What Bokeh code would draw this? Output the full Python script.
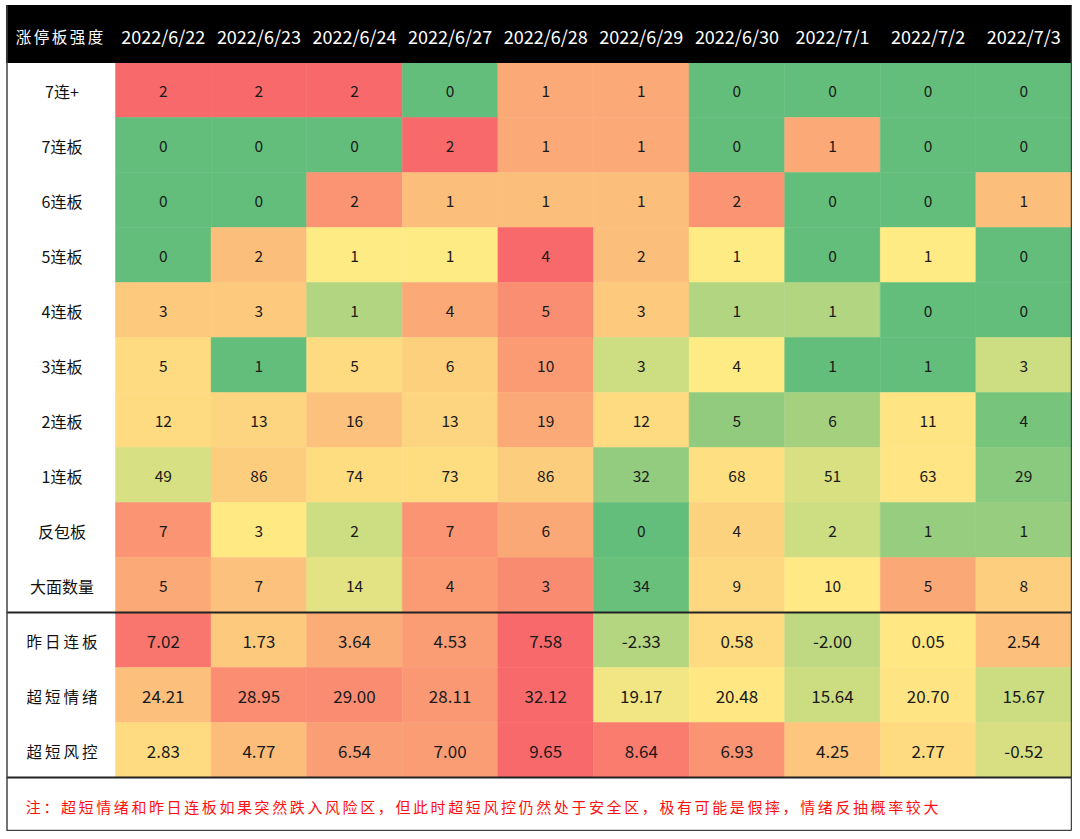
from bokeh.plotting import figure
from bokeh.models import ColumnDataSource, Range1d
from bokeh.core.properties import value
from bokeh.embed import file_html
from bokeh.resources import INLINE

# ---------------- data ----------------
dates = ["2022/6/22", "2022/6/23", "2022/6/24", "2022/6/27", "2022/6/28",
         "2022/6/29", "2022/6/30", "2022/7/1", "2022/7/2", "2022/7/3"]
corner_label = "涨停板强度"
row_labels = ["7连+", "7连板", "6连板", "5连板", "4连板", "3连板", "2连板",
              "1连板", "反包板", "大面数量", "昨日连板", "超短情绪", "超短风控"]

lb_7plus = [2, 2, 2, 0, 1, 1, 0, 0, 0, 0]
lb_7 = [0, 0, 0, 2, 1, 1, 0, 1, 0, 0]
lb_6 = [0, 0, 2, 1, 1, 1, 2, 0, 0, 1]
lb_5 = [0, 2, 1, 1, 4, 2, 1, 0, 1, 0]
lb_4 = [3, 3, 1, 4, 5, 3, 1, 1, 0, 0]
lb_3 = [5, 1, 5, 6, 10, 3, 4, 1, 1, 3]
lb_2 = [12, 13, 16, 13, 19, 12, 5, 6, 11, 4]
lb_1 = [49, 86, 74, 73, 86, 32, 68, 51, 63, 29]
fanbao = [7, 3, 2, 7, 6, 0, 4, 2, 1, 1]
damian = [5, 7, 14, 4, 3, 34, 9, 10, 5, 8]
zuori_lianban = [7.02, 1.73, 3.64, 4.53, 7.58, -2.33, 0.58, -2.00, 0.05, 2.54]
chaoduan_qingxu = [24.21, 28.95, 29.00, 28.11, 32.12, 19.17, 20.48, 15.64, 20.70, 15.67]
chaoduan_fengkong = [2.83, 4.77, 6.54, 7.00, 9.65, 8.64, 6.93, 4.25, 2.77, -0.52]

footnote = "注：超短情绪和昨日连板如果突然跌入风险区，但此时超短风控仍然处于安全区，极有可能是假摔，情绪反抽概率较大"

int_rows = [lb_7plus, lb_7, lb_6, lb_5, lb_4, lb_3, lb_2, lb_1, fanbao, damian]
float_rows = [zuori_lianban, chaoduan_qingxu, chaoduan_fengkong]

# ---------------- styles (cell fills) ----------------
R, G, Y = "#F8696B", "#63BE7B", "#FFEB84"
cell_colors = [
    [R, R, R, G, "#FBAA77", "#FBAA77", G, G, G, G],
    [G, G, G, R, "#FBAA77", "#FBAA77", G, "#FBAA77", G, G],
    [G, G, "#FA9473", "#FCBE7B", "#FCBE7B", "#FCBE7B", "#FA9473", G, G, "#FCBE7B"],
    [G, "#FCBE7B", Y, Y, R, "#FCBE7B", Y, G, Y, G],
    ["#FDC97D", "#FDC97D", "#B1D580", "#FBAA77", "#FA8E72", "#FDC97D", "#B1D580", "#B1D580", G, G],
    ["#FEDB80", G, "#FEDB80", "#FDD07E", "#FA9B74", "#CCDD82", Y, G, G, "#CCDD82"],
    ["#FEDA80", "#FDD47F", "#FCC17C", "#FDD47F", "#FBAA77", "#FEDA80", "#92CB7E", "#A5D17F", "#FFE483", "#77C47D"],
    ["#D7E082", "#FDCD7E", "#FEDC80", "#FEDD81", "#FDCD7E", "#93CC7E", "#FEDF81", "#D8E082", "#FFE583", "#8ACA7E"],
    ["#FA9473", "#FFE983", "#CCDD82", "#FA9473", "#FBA877", G, "#FDD27F", "#CCDD82", "#97CD7E", "#97CD7E"],
    ["#FBAA77", "#FCC17C", "#E4E383", "#FA9B74", "#F98B71", "#68C07B", "#FED880", "#FFE984", "#FBA877", "#FDCE7E"],
    ["#F8766D", "#FDC97D", "#FBAD78", "#FA9D75", R, "#B5D680", "#FEDB80", "#BED981", "#FFE883", "#FCC07C"],
    ["#FCC07C", "#FA8D72", "#FA8C72", "#FA9874", R, "#F1E683", "#FFE884", "#CBDC81", "#FFE483", "#CBDC81"],
    ["#FEDB80", "#FCBD7B", "#FA9E75", "#FA9C74", R, "#F97C6F", "#FA9473", "#FDC57D", "#FEDA80", "#D8DF82"],
]

# ---------------- layout (picture pixel coordinates) ----------------
W, H = 1072, 831
X0, X1 = 6, 1071          # table left / right
LABEL_R = 115             # right edge of label column
Y_TOP, HEAD_B = 5, 62     # header top / bottom
ROW_H = 55
ncol = len(dates)
COL_W = (X1 - LABEL_R) / ncol
FOOT_B = 830
CJK = "Noto Sans CJK SC"

p = figure(width=W, height=H, x_range=Range1d(0, W), y_range=Range1d(H, 0),
           output_backend="svg", toolbar_location=None, min_border=0)
p.axis.visible = False
p.grid.visible = False
p.outline_line_color = None
p.background_fill_color = "white"

# cells
cl, cr, ct, cb, cc = [], [], [], [], []
vx, vy, vt = [], [], []
all_rows = int_rows + float_rows
for r, vals in enumerate(all_rows):
    top = HEAD_B + r * ROW_H
    for c, v in enumerate(vals):
        left = LABEL_R + c * COL_W
        cl.append(left); cr.append(left + COL_W)
        ct.append(top); cb.append(top + ROW_H)
        cc.append(cell_colors[r][c])
        vx.append(left + COL_W / 2); vy.append(top + ROW_H / 2 + 1)
        vt.append(str(v) if r < len(int_rows) else f"{v:.2f}")
p.quad(left="l", right="r", top="t", bottom="b", fill_color="c", line_color="c", line_width=0.5,
       source=ColumnDataSource(dict(l=cl, r=cr, t=ct, b=cb, c=cc)))

ni = len(int_rows) * ncol
p.text(x=vx[:ni], y=vy[:ni], text=vt[:ni], text_align="center", text_baseline="middle",
       text_font=value(CJK), text_font_size="15.5px", text_color="#1a1a1a")
p.text(x=vx[ni:], y=vy[ni:], text=vt[ni:], text_align="center", text_baseline="middle",
       text_font=value(CJK), text_font_size="17px", text_color="#1a1a1a")

# header
p.quad(left=[X0], right=[X1], top=[Y_TOP], bottom=[HEAD_B], fill_color="black", line_color="black")
hx = [LABEL_R + (c + 0.5) * COL_W for c in range(ncol)]
p.text(x=hx, y=[35] * ncol, text=dates, text_align="center", text_baseline="middle",
       text_font=value(CJK), text_font_size="18px", text_color="white")


def spaced(s, cx, cy, pitch, size, color, align="center"):
    n = len(s)
    start = cx - pitch * (n - 1) / 2 if align == "center" else cx + pitch / 2
    xs = [start + i * pitch for i in range(n)]
    p.text(x=xs, y=[cy] * n, text=list(s), text_align="center", text_baseline="middle",
           text_font=value(CJK), text_font_size=size, text_color=color)


spaced(corner_label, 59, 35, 18, "15.5px", "white")

# row labels
lab_cx = (X0 + LABEL_R) / 2 + 1
for r, lab in enumerate(row_labels):
    cy = HEAD_B + r * ROW_H + ROW_H / 2 + 1
    if r < len(int_rows):
        p.text(x=[lab_cx], y=[cy], text=[lab], text_align="center", text_baseline="middle",
               text_font=value(CJK), text_font_size="16px", text_color="#111111")
    else:
        spaced(lab, lab_cx, cy, 18.5, "15.5px", "#111111")

# footnote
foot_top = HEAD_B + len(all_rows) * ROW_H
spaced(footnote, 24, (foot_top + FOOT_B) / 2 + 2, 17.6, "15px", "#FF1010", align="left")

# rules / borders
sep_y = HEAD_B + len(int_rows) * ROW_H
p.segment(x0=[X0, X0], x1=[X1, X1], y0=[sep_y, foot_top], y1=[sep_y, foot_top],
          line_color="#222222", line_width=2)
p.segment(x0=[X0 + 0.5, X1, X0], x1=[X0 + 0.5, X1, X1], y0=[Y_TOP, Y_TOP, FOOT_B],
          y1=[FOOT_B, FOOT_B, FOOT_B], line_color="#444444", line_width=1.5)

open("out.html", "w").write(file_html(p, INLINE))
